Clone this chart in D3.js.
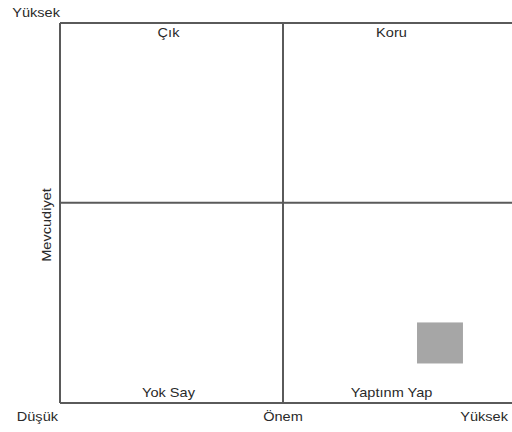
<!DOCTYPE html>
<html>
<head>
<meta charset="utf-8">
<script src="https://cdn.jsdelivr.net/npm/d3@7"></script>
<style>
  body { margin: 0; background: #fff; }
  text { font-family: "Liberation Sans", Arial, sans-serif; fill: #2a2a2a; }
</style>
</head>
<body>
<div id="chart"></div>
<script>
// quadrant matrix data
const quadrantNames = ["Çık", "Koru", "Yok Say", "Yaptınm Yap"];
const quadrantX = [0.25, 0.75, 0.25, 0.75];
const quadrantY = ["top", "top", "bottom", "bottom"];
const xSplit = 0.5;      // Önem split
const ySplit = 0.527;    // Mevcudiyet split
const axisLabels = ["Düşük", "Önem", "Yüksek"];
const yTopLabel = "Yüksek";
const yAxisTitle = "Mevcudiyet";
// the single grey marker
const markerX = [0.852];
const markerY = [0.158];
const markerW = [0.103];
const markerH = [0.108];

const width = 512;
const height = 432;
const margin = { top: 23, right: 6, bottom: 29, left: 60 };
const stretch = 1.12; // reference text is a bit wide

const x = d3.scaleLinear().domain([0, 1]).range([margin.left, width - margin.right]);
const y = d3.scaleLinear().domain([0, 1]).range([height - margin.bottom, margin.top]);

const svg = d3.select("#chart")
    .append("svg")
    .attr("width", width)
    .attr("height", height);

const lineColor = "#5a5a5a";

// frame: left, top, bottom (runs off the right edge)
const frame = [
    [x(0), y(0), x(0), y(1)],
    [x(0), y(1), width, y(1)],
    [x(0), y(0), width, y(0)],
    [x(xSplit), y(0), x(xSplit), y(1)],
    [x(0), y(ySplit), width, y(ySplit)]
];
svg.selectAll("line.frame")
    .data(frame)
    .enter()
    .append("line")
    .attr("class", "frame")
    .attr("x1", d => d[0]).attr("y1", d => d[1])
    .attr("x2", d => d[2]).attr("y2", d => d[3])
    .attr("stroke", lineColor)
    .attr("stroke-width", 2);

// marker
svg.selectAll("rect.marker")
    .data(markerX)
    .enter()
    .append("rect")
    .attr("class", "marker")
    .attr("x", (d, i) => x(d) - (x(markerW[i]) - x(0)) / 2)
    .attr("y", (d, i) => y(markerY[i]) - (y(0) - y(markerH[i])) / 2)
    .attr("width", (d, i) => x(markerW[i]) - x(0))
    .attr("height", (d, i) => y(0) - y(markerH[i]))
    .attr("fill", "#a6a6a6");

function label(tx, ty, txt, anchor, rot = 0) {
    svg.append("g")
        .attr("transform", `translate(${tx},${ty}) rotate(${rot}) scale(${stretch},1)`)
        .append("text")
        .attr("text-anchor", anchor)
        .style("font-size", "13px")
        .text(txt);
}

// quadrant names
quadrantNames.forEach((d, i) => {
    label(x(quadrantX[i]) - 3, quadrantY[i] === "top" ? y(1) + 14 : y(0) - 6, d, "middle");
});

// bottom axis labels
const bottomPos = [x(0) - 2, x(xSplit), width - 4];
const anchors = ["end", "middle", "end"];
axisLabels.forEach((d, i) => label(bottomPos[i], y(0) + 18, d, anchors[i]));

label(x(0), y(1) - 6, yTopLabel, "end");
label(51, (y(0) + y(1)) / 2 + 12, yAxisTitle, "middle", -90);
</script>
</body>
</html>
